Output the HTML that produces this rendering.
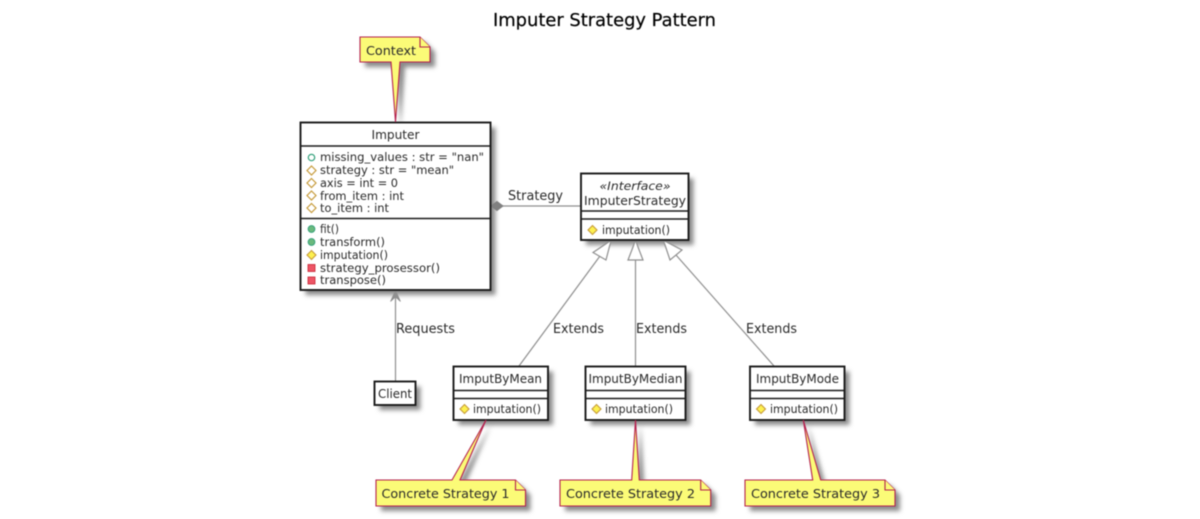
<!DOCTYPE html>
<html><head><meta charset="utf-8"><style>
html,body{margin:0;padding:0;background:#fff;width:1200px;height:519px;overflow:hidden}
svg{display:block;filter:blur(0.5px)}
text{font-family:"DejaVu Sans","Liberation Sans",sans-serif;fill:#2a2a2a}
.c{fill:#fff;stroke:#1a1a1a;stroke-width:1.9}
.s{stroke:#1a1a1a;stroke-width:1.6;fill:none}
.n{fill:#fbfb77;stroke:#b5214f;stroke-width:1.1}
.l{stroke:#8f8f8f;stroke-width:1.2;fill:none}
.t{font-size:11.3px}
.h{font-size:12.5px}
.e{font-size:13px;fill:#2a2a2a}
</style></head><body>
<svg width="1200" height="519" viewBox="0 0 1200 519" xmlns="http://www.w3.org/2000/svg">
<defs>
<filter id="sh" x="-20%" y="-20%" width="150%" height="150%"><feGaussianBlur stdDeviation="2.4"/></filter>
</defs>
<rect width="1200" height="519" fill="#fff"/>
<text x="604.5" y="26" text-anchor="middle" font-size="18" textLength="223" lengthAdjust="spacingAndGlyphs" style="fill:#000;stroke:#000;stroke-width:0.2">Imputer Strategy Pattern</text>

<!-- shadows -->
<g fill="#8a8a8a" filter="url(#sh)" transform="translate(5,5)">
<rect x="300.5" y="122.5" width="190" height="167.5"/>
<rect x="581" y="173.5" width="107.5" height="66.5"/>
<rect x="374.5" y="381.5" width="41" height="23.5"/>
<rect x="453.5" y="366.5" width="94.5" height="53.5"/>
<rect x="585.5" y="366.5" width="100" height="53.5"/>
<rect x="750" y="366.5" width="94.5" height="53.5"/>
<polygon points="360,37 420,37 430,47 430,62 400,62 395.5,122 391,62 360,62"/>
<polygon points="376,480 452,480 486,420 460,480 515.5,480 525.5,490 525.5,506 376,506"/>
<polygon points="560,480 631.7,480 635.5,420 639.3,480 700.7,480 710.7,490 710.7,506 560,506"/>
<polygon points="745,480 812.7,480 803.3,420 820.7,480 885,480 895,490 895,506 745,506"/>
</g>

<!-- connectors -->
<line class="l" x1="395.5" y1="294" x2="395.5" y2="381"/>
<polygon points="395.5,290.5 390.5,301.5 395.5,297 400.5,301.5" fill="#8f8f8f" stroke="#8f8f8f" stroke-width="0.8"/>
<line class="l" x1="500" y1="206" x2="581" y2="206"/>
<polygon points="491,206 497,201.5 503,206 497,210.5" fill="#808080" stroke="#808080"/>
<line class="l" x1="600" y1="256" x2="519" y2="366"/>
<polygon points="611,240.5 593,252.5 606,260" fill="#fff" stroke="#8f8f8f" stroke-width="1.2"/>
<line class="l" x1="635.5" y1="260" x2="635.5" y2="366"/>
<polygon points="635.5,240.5 628,260 643,260" fill="#fff" stroke="#8f8f8f" stroke-width="1.2"/>
<line class="l" x1="676" y1="255" x2="774" y2="366"/>
<polygon points="663.5,240.5 670,260 682,250" fill="#fff" stroke="#8f8f8f" stroke-width="1.2"/>

<text class="e" x="508" y="200" textLength="55" lengthAdjust="spacingAndGlyphs">Strategy</text>
<text class="e" x="396" y="333" textLength="59" lengthAdjust="spacingAndGlyphs">Requests</text>
<text class="e" x="553" y="333" textLength="51" lengthAdjust="spacingAndGlyphs">Extends</text>
<text class="e" x="636" y="333" textLength="51" lengthAdjust="spacingAndGlyphs">Extends</text>
<text class="e" x="746" y="333" textLength="51" lengthAdjust="spacingAndGlyphs">Extends</text>

<!-- Imputer -->
<rect class="c" x="300.5" y="122.5" width="190" height="167.5"/>
<line class="s" x1="300.5" y1="146" x2="490.5" y2="146"/>
<line class="s" x1="300.5" y1="218.5" x2="490.5" y2="218.5"/>
<text class="h" x="395.5" y="139" text-anchor="middle" textLength="48" lengthAdjust="spacingAndGlyphs">Imputer</text>
<circle cx="311.5" cy="157.5" r="3.2" fill="none" stroke="#2e9e78" stroke-width="1.2"/>
<polygon points="311.5,166 316,170.5 311.5,175 307,170.5" fill="none" stroke="#c69b3a" stroke-width="1.2"/>
<polygon points="311.5,178.5 316,183 311.5,187.500 307,183" fill="none" stroke="#c69b3a" stroke-width="1.2"/>
<polygon points="311.5,191 316,195.500 311.5,200 307,195.500" fill="none" stroke="#c69b3a" stroke-width="1.2"/>
<polygon points="311.5,203.500 316,208 311.5,212.500 307,208" fill="none" stroke="#c69b3a" stroke-width="1.2"/>
<text class="t" x="320" y="161" textLength="164" lengthAdjust="spacingAndGlyphs">missing_values : str = "nan"</text>
<text class="t" x="320" y="174" textLength="134" lengthAdjust="spacingAndGlyphs">strategy : str = "mean"</text>
<text class="t" x="320" y="187" textLength="78" lengthAdjust="spacingAndGlyphs">axis = int = 0</text>
<text class="t" x="320" y="200" textLength="84" lengthAdjust="spacingAndGlyphs">from_item : int</text>
<text class="t" x="320" y="212" textLength="69" lengthAdjust="spacingAndGlyphs">to_item : int</text>
<circle cx="311.5" cy="229" r="3.4" fill="#6bb97d" stroke="#2e9e78" stroke-width="0.9"/>
<circle cx="311.5" cy="242" r="3.4" fill="#6bb97d" stroke="#2e9e78" stroke-width="0.9"/>
<polygon points="311.5,250.500 316,255 311.5,259.500 307,255" fill="#fdf04f" stroke="#c69b3a" stroke-width="1.1"/>
<rect x="308" y="264.5" width="7" height="7" fill="#ee5566" stroke="#c82333" stroke-width="0.8"/>
<rect x="308" y="277" width="7" height="7" fill="#ee5566" stroke="#c82333" stroke-width="0.8"/>
<text class="t" x="320" y="233" textLength="19" lengthAdjust="spacingAndGlyphs">fit()</text>
<text class="t" x="320" y="246" textLength="65" lengthAdjust="spacingAndGlyphs">transform()</text>
<text class="t" x="320" y="259" textLength="68" lengthAdjust="spacingAndGlyphs">imputation()</text>
<text class="t" x="320" y="272" textLength="120" lengthAdjust="spacingAndGlyphs">strategy_prosessor()</text>
<text class="t" x="320" y="284" textLength="66" lengthAdjust="spacingAndGlyphs">transpose()</text>

<!-- ImputerStrategy -->
<rect class="c" x="581" y="173.5" width="107.5" height="66.5"/>
<line class="s" x1="581" y1="211" x2="688.5" y2="211"/>
<line class="s" x1="581" y1="219" x2="688.5" y2="219"/>
<text x="635" y="190" text-anchor="middle" font-size="11.5" font-style="italic" textLength="71" lengthAdjust="spacingAndGlyphs">«Interface»</text>
<text class="h" x="635" y="205" text-anchor="middle" textLength="102" lengthAdjust="spacingAndGlyphs">ImputerStrategy</text>
<polygon points="592.5,225.500 597,230 592.5,234.500 588,230" fill="#fdf04f" stroke="#c69b3a" stroke-width="1.1"/>
<text class="t" x="602" y="234" textLength="68" lengthAdjust="spacingAndGlyphs">imputation()</text>

<!-- Client -->
<rect class="c" x="374.5" y="381.5" width="41" height="23.5"/>
<text class="h" x="395" y="398" text-anchor="middle" textLength="34" lengthAdjust="spacingAndGlyphs">Client</text>

<!-- ImputByMean -->
<rect class="c" x="453.5" y="366.5" width="94.5" height="53.5"/>
<line class="s" x1="453.5" y1="390.5" x2="548" y2="390.5"/>
<line class="s" x1="453.5" y1="398.5" x2="548" y2="398.5"/>
<text class="h" x="500.5" y="383" text-anchor="middle" textLength="83" lengthAdjust="spacingAndGlyphs">ImputByMean</text>
<polygon points="464.5,404.500 469,409 464.5,413.500 460,409" fill="#fdf04f" stroke="#c69b3a" stroke-width="1.1"/>
<text class="t" x="473" y="413" textLength="68" lengthAdjust="spacingAndGlyphs">imputation()</text>

<!-- ImputByMedian -->
<rect class="c" x="585.5" y="366.5" width="100" height="53.5"/>
<line class="s" x1="585.5" y1="390.5" x2="685.5" y2="390.5"/>
<line class="s" x1="585.5" y1="398.5" x2="685.5" y2="398.5"/>
<text class="h" x="635.5" y="383" text-anchor="middle" textLength="94" lengthAdjust="spacingAndGlyphs">ImputByMedian</text>
<polygon points="596.5,404.500 601,409 596.5,413.500 592,409" fill="#fdf04f" stroke="#c69b3a" stroke-width="1.1"/>
<text class="t" x="605" y="413" textLength="68" lengthAdjust="spacingAndGlyphs">imputation()</text>

<!-- ImputByMode -->
<rect class="c" x="750" y="366.5" width="94.5" height="53.5"/>
<line class="s" x1="750" y1="390.5" x2="844.5" y2="390.5"/>
<line class="s" x1="750" y1="398.5" x2="844.5" y2="398.5"/>
<text class="h" x="797.5" y="383" text-anchor="middle" textLength="83" lengthAdjust="spacingAndGlyphs">ImputByMode</text>
<polygon points="761,404.500 765.500,409 761,413.500 756.500,409" fill="#fdf04f" stroke="#c69b3a" stroke-width="1.1"/>
<text class="t" x="770" y="413" textLength="68" lengthAdjust="spacingAndGlyphs">imputation()</text>

<!-- Notes -->
<polygon class="n" points="360,37 420,37 430,47 430,62 400,62 395.5,122 391,62 360,62"/>
<polyline class="n" points="420,37 420,47 430,47" fill="none"/>
<text class="h" x="366" y="55" textLength="50" lengthAdjust="spacingAndGlyphs">Context</text>

<polygon class="n" points="376,480 452,480 486,420 460,480 515.5,480 525.5,490 525.5,506 376,506"/>
<polyline class="n" points="515.5,480 515.5,490 525.5,490"/>
<text class="h" x="381.5" y="498" textLength="128" lengthAdjust="spacingAndGlyphs">Concrete Strategy 1</text>

<polygon class="n" points="560,480 631.7,480 635.5,420 639.3,480 700.7,480 710.7,490 710.7,506 560,506"/>
<polyline class="n" points="700.7,480 700.7,490 710.7,490"/>
<text class="h" x="566" y="498" textLength="129" lengthAdjust="spacingAndGlyphs">Concrete Strategy 2</text>

<polygon class="n" points="745,480 812.7,480 803.3,420 820.7,480 885,480 895,490 895,506 745,506"/>
<polyline class="n" points="885,480 885,490 895,490"/>
<text class="h" x="751" y="498" textLength="129" lengthAdjust="spacingAndGlyphs">Concrete Strategy 3</text>
</svg>
</body></html>
